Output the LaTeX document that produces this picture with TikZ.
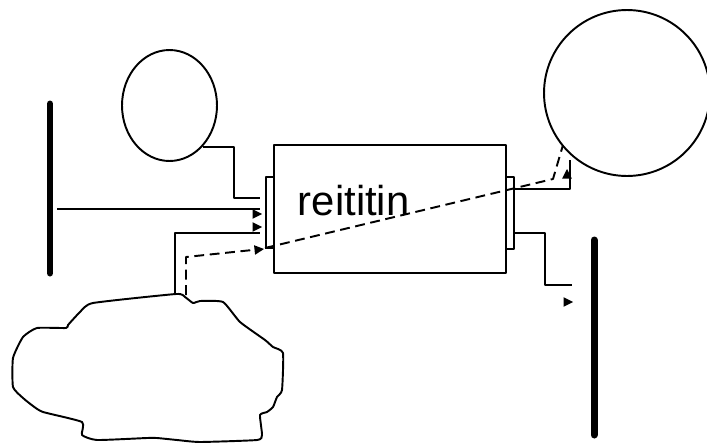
\documentclass[tikz,border=0pt]{standalone}
\usepackage{fontspec}
\setmainfont{Liberation Sans}
\usetikzlibrary{shapes.geometric}
\begin{document}
\begin{tikzpicture}[x=.02cm,y=-.02cm,line join=round,line width=1.1pt,
	arrowhd/.pic={\fill (0,0)--(-9.5,-4.8)--(-9.5,4.8)--cycle;},
	bar/.style={line width=.14cm,line cap=round},
	dsh/.style={dash pattern=on 5.6pt off 3.2pt}]
	\useasboundingbox (0,0) rectangle (707,443);
	% shapes
	\node[draw,ellipse,minimum width=1.9cm,minimum height=2.22cm,inner sep=0] (pc) at (169.5,105.5) {};
	\node[draw,circle,minimum size=3.32cm,inner sep=0] (net) at (627,93) {};
	\draw (274,145) rectangle (506,273);
	\draw (266,177) rectangle (274,248) (506,177) rectangle (514,249);
	\node[anchor=base west,inner sep=0,font=\fontsize{23.8}{28}\selectfont] (rt) at (297,215) {reititin};
	\draw[bar] (50,104)--(50,273);
	\draw[bar] (594,240)--(594,435);
	\draw plot[smooth cycle,tension=.3] coordinates {(176,294) (93,303) (80,312) (68,325) (66,328) (37,328) (23,337) (13,358) (13,387) (23,398) (33,406) (43,412) (82,422) (82,435) (97,440) (147,438) (157,438) (177,440) (200,442) (257,440) (262,435) (260,415) (267,412) (273,407) (277,397) (282,390) (283,353) (273,347) (265,340) (240,322) (223,302) (200,301) (193,303) (185,297)};
	% lines
	\draw (pc.-51) -| (234,198)--(260,198);
	\draw (57,209)--(260,209);
	\draw (175,293) |- (260,233);
	\draw[dsh] (186,295)--(186,257)--(262,249);
	\draw[dsh] (265,248)--(553,179)--(563,145);
	\draw (514,189) -| (570,160);
	\draw (514,233) -| (545,285)--(572,285);
	\pic at (262,214) {arrowhd};
	\pic at (262,227) {arrowhd};
	\pic[rotate=6] at (264,249) {arrowhd};
	\pic[rotate=90] at (567,169) {arrowhd};
	\pic at (573,302) {arrowhd};
\end{tikzpicture}
\end{document}
